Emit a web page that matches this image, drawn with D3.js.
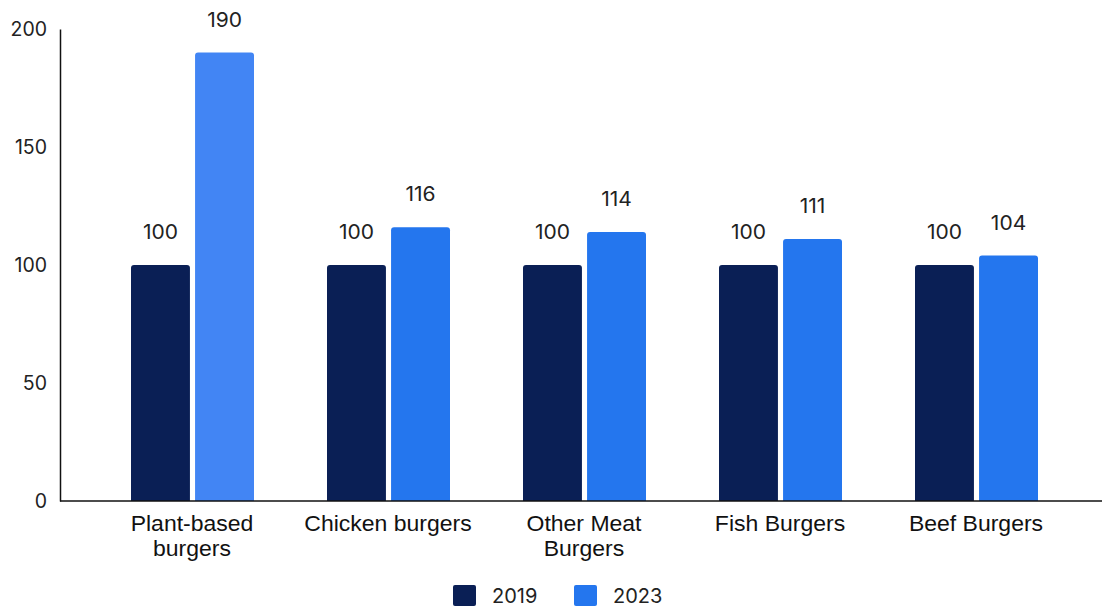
<!DOCTYPE html>
<html>
<head>
<meta charset="utf-8">
<script src="https://cdn.jsdelivr.net/npm/d3@7"></script>
<style>
  html, body { margin: 0; padding: 0; background: #fff; }
  svg { display: block; }
</style>
</head>
<body>
<svg id="chart" width="1102" height="608"></svg>
<script>
// Burger sales index by type, 2019 = 100
const categories = [["Plant-based", "burgers"], ["Chicken burgers"], ["Other Meat", "Burgers"], ["Fish Burgers"], ["Beef Burgers"]];
const values2019 = [100, 100, 100, 100, 100];
const values2023 = [190, 116, 114, 111, 104];
const seriesNames = ["2019", "2023"];
const yTicks = [0, 50, 100, 150, 200];

const colors2019 = "#0A1F55";
const colors2023 = ["#4285F4", "#2476EE", "#2476EE", "#2476EE", "#2476EE"];

const svg = d3.select("#chart");
const W = 1102, H = 608;
const x0 = 60, baseY = 501, topY = 29;

const keys = categories.map(c => c.join(" "));
const x = d3.scaleBand().domain(keys).range([94, 1074]).paddingInner(0).paddingOuter(0);
const xSub = d3.scaleBand().domain(seriesNames).range([37, 160]).paddingInner(0.08);
const y = d3.scaleLinear().domain([0, 200]).range([baseY, topY]);

const numFont = "Inter, 'Noto Sans', sans-serif";
const catFont = "'Liberation Sans', Arial, sans-serif";

// y axis
const yAxis = d3.axisLeft(y).tickValues(yTicks).tickSize(0).tickPadding(13);
const gy = svg.append("g").attr("transform", `translate(${x0},0)`).call(yAxis);
gy.select(".domain").attr("stroke", "#111").attr("stroke-width", 1.5);
gy.selectAll("text").attr("font-family", numFont).attr("font-size", 19.5).attr("fill", "#222");

// bars with slightly rounded top corners
function topRounded(xp, yp, w, h, r) {
  return `M${xp},${yp + h}V${yp + r}Q${xp},${yp} ${xp + r},${yp}H${xp + w - r}Q${xp + w},${yp} ${xp + w},${yp + r}V${yp + h}Z`;
}

const groups = svg.append("g").selectAll("g").data(keys).join("g")
  .attr("transform", d => `translate(${x(d)},0)`);

groups.each(function(k, i) {
  const g = d3.select(this);
  const vals = [values2019[i], values2023[i]];
  const fills = [colors2019, colors2023[i]];
  vals.forEach((v, j) => {
    const bx = xSub(seriesNames[j]);
    const bw = xSub.bandwidth();
    g.append("path")
      .attr("d", topRounded(bx, y(v), bw, baseY - y(v), 3))
      .attr("fill", fills[j]);
    g.append("text")
      .attr("transform", `translate(${bx + bw / 2},${y(v) - 26}) scale(1.05,1)`)
      .attr("text-anchor", "middle")
      .attr("font-family", numFont)
      .attr("font-size", 20)
      .attr("fill", "#222")
      .text(v);
  });
});

// x axis baseline
svg.append("line").attr("x1", x0).attr("x2", W).attr("y1", baseY).attr("y2", baseY)
  .attr("stroke", "#111").attr("stroke-width", 1.5);

// category labels
categories.forEach((lines, i) => {
  const cx = x(keys[i]) + 98;
  lines.forEach((ln, li) => {
    svg.append("text")
      .attr("transform", `translate(${cx},${531 + li * 25}) scale(1.07,1)`)
      .attr("text-anchor", "middle")
      .attr("font-family", catFont).attr("font-size", 21.5).attr("fill", "#111")
      .text(ln);
  });
});

// legend
const legendX = [453, 574];
seriesNames.forEach((s, j) => {
  svg.append("rect").attr("x", legendX[j]).attr("y", 585).attr("width", 23).attr("height", 21)
    .attr("rx", 2).attr("fill", j === 0 ? colors2019 : "#2476EE");
  svg.append("text").attr("x", legendX[j] + 39).attr("y", 603)
    .attr("font-family", numFont).attr("font-size", 20).attr("fill", "#222").text(s);
});
</script>
</body>
</html>
